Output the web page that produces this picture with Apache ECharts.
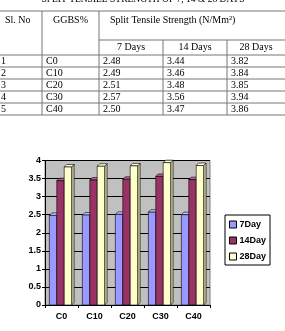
<!DOCTYPE html>
<html>
<head>
<meta charset="utf-8">
<script src="https://cdn.jsdelivr.net/npm/echarts@6/dist/echarts.min.js"></script>
<style>
  html, body { margin: 0; padding: 0; background: #fff; }
  #main { width: 285px; height: 331px; }
</style>
</head>
<body>
<div id="main"></div>
<script>
// data
const slNo = ['1', '2', '3', '4', '5'];
const categories = ['C0', 'C10', 'C20', 'C30', 'C40'];
const days7 = [2.48, 2.49, 2.51, 2.57, 2.50];
const days14 = [3.44, 3.46, 3.48, 3.56, 3.47];
const days28 = [3.82, 3.84, 3.85, 3.94, 3.86];
const seriesNames = ['7Day', '14Day', '28Day'];
const dayHeads = ['7 Days', '14 Days', '28 Days'];

const colors = ['#9999ff', '#993366', '#ffffcc'];
const tops = ['#c4c4ff', '#b8668a', '#ffffe8'];
const sides = ['#6b6bc0', '#6e2449', '#c8c89a'];
const depth = 2.5;

const serif = '"Liberation Serif", serif';
const sans = '"Liberation Sans", Arial, sans-serif';

// table drawn as graphic elements
const colX = [0, 42, 99, 163, 227, 285];
const headTop = 11, subTop = 40, bodyTop = 55, rowH = 12;

function line(x1, y1, x2, y2) {
  return { type: 'line', shape: { x1: x1, y1: y1, x2: x2, y2: y2 },
    style: { stroke: '#777', lineWidth: 1 }, silent: true };
}
function txt(x, y, s, align) {
  return { type: 'text', x: x, y: y, silent: true,
    style: { text: s, font: '10px ' + serif, fill: '#000',
      align: align || 'left', verticalAlign: 'middle' } };
}

const table = [];
table.push({ type: 'text', x: 143, y: -1, silent: true,
  style: { text: 'SPLIT TENSILE STRENGTH OF 7, 14 & 28 DAYS', font: '9.5px ' + serif,
    fill: '#000', align: 'center', verticalAlign: 'middle' } });
table.push(line(0, headTop, 285, headTop));
table.push(line(colX[2], subTop, 285, subTop));
for (let c = 1; c < 5; c++) {
  const yStart = c > 2 ? subTop : headTop;
  table.push(line(colX[c], yStart, colX[c], bodyTop + rowH * 5));
}
for (let r = 0; r <= 5; r++) {
  table.push(line(0, bodyTop + rowH * r, 285, bodyTop + rowH * r));
}
table.push(txt(5, 20, 'Sl. No'));
table.push(txt(53, 20, 'GGBS%'));
table.push(txt(110, 20, 'Split Tensile Strength (N/Mm²)'));
dayHeads.forEach(function (h, i) {
  table.push(txt((colX[i + 2] + colX[i + 3]) / 2, 47, h, 'center'));
});
const cols = [days7, days14, days28];
for (let r = 0; r < 5; r++) {
  const yy = bodyTop + rowH * r + rowH / 2;
  table.push(txt(1, yy, slNo[r]));
  table.push(txt(46, yy, categories[r]));
  for (let k = 0; k < 3; k++) {
    table.push(txt(colX[k + 2] + 4, yy, cols[k][r].toFixed(2)));
  }
}

// 3d bar renderer
function bar3d(idx) {
  return function (params, api) {
    const ci = api.value(0);
    const v = api.value(1);
    const center = api.coord([ci, 0]);
    const top = api.coord([ci, v]);
    const band = api.size([1, 0])[0];
    const w = band * 0.225;
    const x = center[0] - w * 1.5 + idx * w - 1;
    const y0 = center[1];
    const y1 = top[1];
    const stroke = { stroke: '#000', lineWidth: 0.6 };
    return {
      type: 'group',
      children: [
        { type: 'polygon', shape: { points: [[x + w, y1], [x + w + depth, y1 - depth], [x + w + depth, y0 - depth], [x + w, y0]] },
          style: Object.assign({ fill: sides[idx] }, stroke) },
        { type: 'polygon', shape: { points: [[x, y1], [x + depth, y1 - depth], [x + w + depth, y1 - depth], [x + w, y1]] },
          style: Object.assign({ fill: tops[idx] }, stroke) },
        { type: 'rect', shape: { x: x, y: y1, width: w, height: y0 - y1 },
          style: Object.assign({ fill: colors[idx] }, stroke) }
      ]
    };
  };
}

const seriesData = [days7, days14, days28];

const chart = echarts.init(document.getElementById('main'));
chart.setOption({
  animation: false,
  backgroundColor: '#fff',
  grid: {
    left: 45, top: 160.5, width: 165, height: 144.5,
    show: true, backgroundColor: '#c0c0c0', borderColor: '#808080', borderWidth: 1
  },
  legend: {
    orient: 'vertical', left: 225, top: 215,
    backgroundColor: '#fff', borderColor: '#000', borderWidth: 1,
    padding: [5, 4, 4, 4],
    itemWidth: 7, itemHeight: 7, itemGap: 7,
    icon: 'rect',
    itemStyle: { borderColor: '#000', borderWidth: 1 },
    textStyle: { fontFamily: sans, fontSize: 9, fontWeight: 'bold', color: '#000', padding: [0, 0, 0, -2] },
    data: seriesNames
  },
  xAxis: {
    type: 'category',
    data: categories,
    axisLine: { lineStyle: { color: '#000' } },
    axisTick: { show: true, length: 3, lineStyle: { color: '#000' } },
    axisLabel: { fontFamily: sans, fontSize: 9, fontWeight: 'bold', color: '#000', margin: 7 }
  },
  yAxis: {
    type: 'value', min: 0, max: 4, interval: 0.5,
    axisLine: { show: true, lineStyle: { color: '#000' } },
    axisTick: { show: true, length: 3, lineStyle: { color: '#000' } },
    axisLabel: { fontFamily: sans, fontSize: 9, fontWeight: 'bold', color: '#000', margin: 4 },
    splitLine: { lineStyle: { color: '#000', width: 1 } }
  },
  graphic: table,
  series: seriesNames.map(function (name, i) {
    return {
      name: name,
      type: 'custom',
      itemStyle: { color: colors[i] },
      renderItem: bar3d(i),
      encode: { x: 0, y: 1 },
      data: seriesData[i].map(function (v, j) { return [j, v]; }),
      z: 3
    };
  })
});
</script>
</body>
</html>
